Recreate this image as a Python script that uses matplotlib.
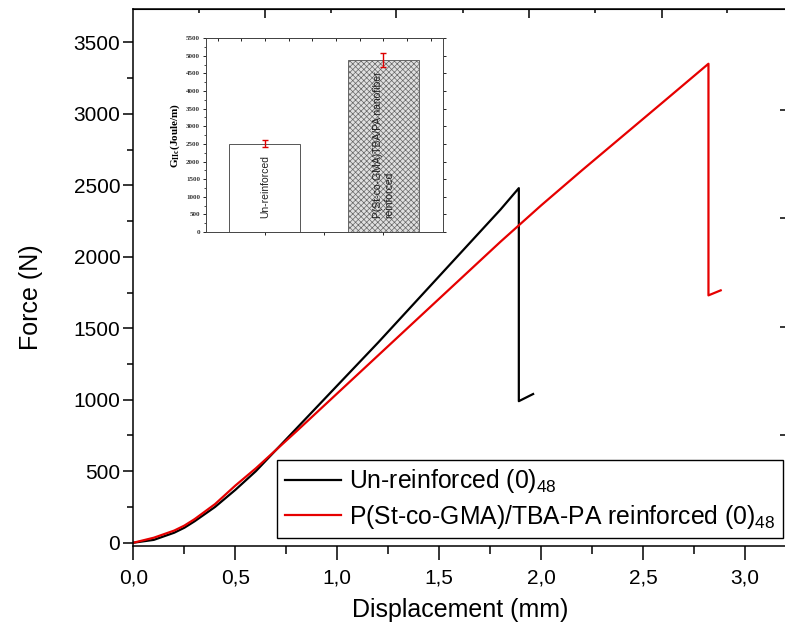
import numpy as np
import matplotlib
matplotlib.use("Agg")
import matplotlib.pyplot as plt
from matplotlib import ticker

plt.rcParams['font.family'] = ['Liberation Sans', 'DejaVu Sans']
plt.rcParams['mathtext.fontset'] = 'custom'
plt.rcParams['mathtext.rm'] = 'Liberation Sans'
plt.rcParams['mathtext.default'] = 'regular'
plt.rcParams['hatch.linewidth'] = 0.5

# main curves: displacement (mm) vs force (N)
disp_unreinf = [0.0, 0.1, 0.2, 0.25, 0.3, 0.4, 0.5, 0.6, 0.7, 0.8, 1.0, 1.2, 1.4,
                1.6, 1.8, 1.89, 1.89, 1.96]
force_unreinf = [0, 20, 70, 105, 150, 250, 370, 500, 650, 800, 1100, 1400, 1710,
                 2020, 2330, 2480, 990, 1040]

disp_reinf = [0.0, 0.1, 0.2, 0.25, 0.3, 0.4, 0.5, 0.6, 0.7, 0.8, 1.0, 1.2, 1.4,
              1.6, 1.8, 2.0, 2.2, 2.4, 2.6, 2.82, 2.82, 2.88]
force_reinf = [0, 35, 85, 120, 165, 270, 400, 520, 650, 780, 1045, 1310, 1575,
               1840, 2105, 2360, 2605, 2845, 3085, 3350, 1730, 1765]

labels = ['Un-reinforced (0)$_{48}$', 'P(St-co-GMA)/TBA-PA reinforced (0)$_{48}$']

# inset bar chart
bar_names = ['Un-reinforced', 'P(St-co-GMA)TBA/PA nanofiber\nreinforced']
bar_values = [2510, 4880]
bar_errors = [90, 190]

fig = plt.figure(figsize=(7.85, 6.24), dpi=100)
ax = fig.add_axes([0.170, 0.125, 0.8312, 0.8606])

ax.plot(disp_unreinf, force_unreinf, color='black', lw=1.6, label=labels[0])
ax.plot(disp_reinf, force_reinf, color='#e60000', lw=1.6, label=labels[1])

ax.set_xlim(0, 3.2)
ax.set_ylim(-23, 3733)
ax.xaxis.set_major_locator(ticker.MultipleLocator(0.5))
ax.xaxis.set_minor_locator(ticker.MultipleLocator(0.25))
ax.yaxis.set_major_locator(ticker.MultipleLocator(500))
ax.yaxis.set_minor_locator(ticker.MultipleLocator(250))
ax.xaxis.set_major_formatter(ticker.FuncFormatter(lambda v, p: f'{v:.1f}'.replace('.', ',')))
ax.tick_params(axis='x', which='major', length=10, width=1.1, pad=6, labelsize=15)
ax.tick_params(axis='x', which='minor', length=6, width=1.1)
ax.tick_params(axis='y', which='major', length=7.5, width=1.1, pad=2, labelsize=15)
ax.tick_params(axis='y', which='minor', length=4, width=1.1)
for s in ax.spines.values():
    s.set_linewidth(1.1)

ax.set_xlabel('Displacement (mm)', fontsize=18)
ax.set_ylabel('Force (N)', fontsize=18)
ax.xaxis.set_label_coords(0.5, -0.097)
ax.yaxis.set_label_coords(-0.139, 0.464)

# stray frame ticks on top and right
top = ax.secondary_xaxis('top')
top.set_xticks([0.643, 1.29, 1.94, 2.59])
top.set_xticks([0.323, 0.968, 1.617, 2.265, 2.91], minor=True)
top.tick_params(which='major', direction='in', length=6.5, width=1.1, labeltop=False)
top.tick_params(which='minor', direction='in', length=3, width=1.1)
top.set_xticklabels([])
right = ax.secondary_yaxis('right')
right.set_yticks([754, 1510, 2273, 3029])
right.tick_params(direction='in', length=4, width=1.1, labelright=False)
right.set_yticklabels([])

leg = ax.legend(loc='upper left', bbox_to_anchor=(0.353, 0.263), bbox_transform=fig.transFigure,
                borderaxespad=0, fontsize=17.8, fancybox=False, framealpha=1,
                edgecolor='black', handlelength=2.3, handletextpad=0.3,
                labelspacing=0.3, borderpad=0.3)
leg.get_frame().set_linewidth(1.0)

# inset
ax2 = fig.add_axes([0.262, 0.628, 0.302, 0.311])
xpos = np.arange(1, len(bar_values) + 1)
ax2.bar(xpos[0], bar_values[0], width=0.6, color='white', edgecolor='#555555', lw=0.7)
ax2.bar(xpos[1], bar_values[1], width=0.6, color='#e0e0e0', edgecolor='#666666',
        hatch='xxxxxx', lw=0.7)
ax2.errorbar(xpos, bar_values, yerr=bar_errors, fmt='none', ecolor='#dd0000',
             elinewidth=1.0, capsize=2, capthick=1.0)
for xp, name in zip(xpos, bar_names):
    ax2.text(xp, 400, name, rotation=90, ha='center', va='bottom', fontsize=7.5,
             multialignment='left', color='#222222')

ax2.set_xlim(0.5, 2.5)
ax2.set_ylim(0, 5500)
ax2.yaxis.set_major_locator(ticker.MultipleLocator(500))
ax2.yaxis.set_minor_locator(ticker.MultipleLocator(250))
ax2.set_xticks([1, 2])
ax2.set_xticks([1.5], minor=True)
ax2.set_xticklabels([])
ax2.tick_params(axis='y', which='major', length=2.5, width=0.6, pad=1.5,
                labelsize=5, right=True)
ax2.tick_params(axis='y', which='minor', length=1.2, width=0.5)
ax2.tick_params(axis='x', which='both', length=2, width=0.6)
for lab in ax2.get_yticklabels():
    lab.set_fontfamily('Liberation Serif')
    lab.set_fontweight('bold')
    lab.set_color('#333333')
for s in ax2.spines.values():
    s.set_linewidth(0.7)
    s.set_color('#444444')
ax2.set_ylabel('G$_{IIc}$(Joule/m)', fontsize=8, fontfamily='Liberation Serif',
               fontweight='bold', labelpad=3)
# inward ticks along the inset top edge
ax2_top = ax2.secondary_xaxis('top')
ax2_top.set_xticks(np.arange(0.6, 2.5, 0.2))
ax2_top.tick_params(direction='in', length=1.8, width=0.6, labeltop=False)
ax2_top.set_xticklabels([])
ax2_top.spines['top'].set_linewidth(0.7)
ax2_top.spines['top'].set_color('#444444')

fig.savefig('out.png', dpi=100)
